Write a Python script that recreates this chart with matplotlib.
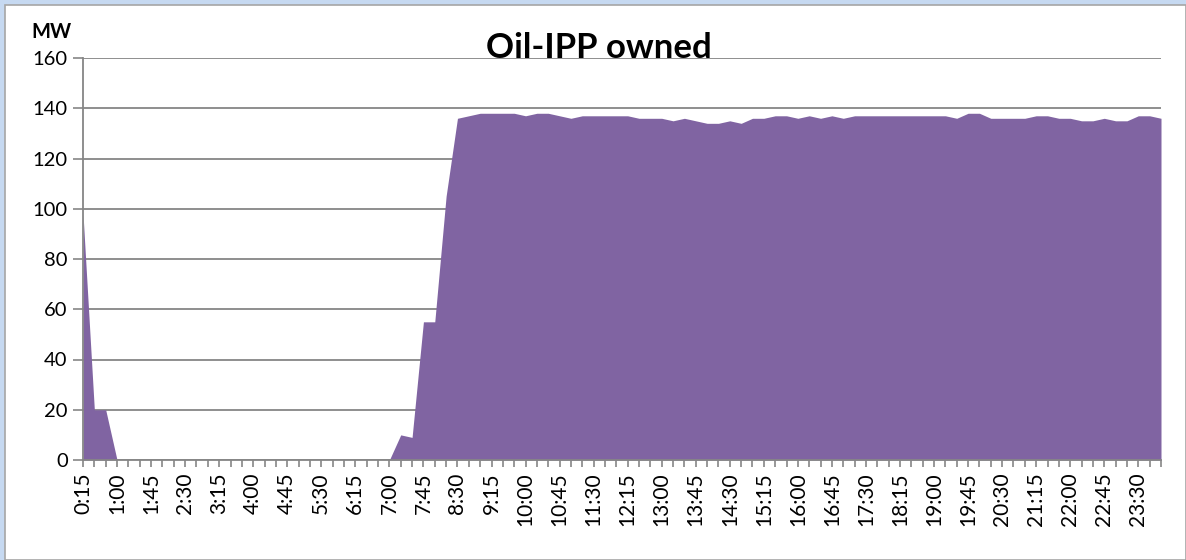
import matplotlib
matplotlib.use("Agg")
import matplotlib.pyplot as plt
from matplotlib.patches import Rectangle

# categories: quarter-hours 0:15 ... 24:00
times = []
for q in range(1, 97):
    m = q * 15
    times.append(f"{m // 60}:{m % 60:02d}")

values = [98, 20, 20, 0,
          0, 0, 0, 0, 0, 0, 0, 0, 0, 0, 0, 0,
          0, 0, 0, 0, 0, 0, 0, 0, 0, 0, 0, 0,
          10, 9, 55, 55, 105, 136, 137,
          138, 138, 138, 138, 137, 138, 138, 137, 136,
          137, 137, 137, 137, 137, 136, 136, 136, 135, 136, 135, 134, 134, 135, 134,
          136, 136, 137, 137, 136, 137, 136, 137, 136,
          137, 137, 137, 137, 137, 137, 137, 137, 137,
          136, 138, 138, 136, 136, 136, 136, 137, 137, 136, 136, 135, 135, 136,
          135, 135, 137, 137, 136]

title = "Oil-IPP owned"
y_label = "MW"
y_ticks = [0, 20, 40, 60, 80, 100, 120, 140, 160]

W, H = 1186, 560
fig = plt.figure(figsize=(W / 100, H / 100), dpi=100)
fig.patch.set_facecolor("#C6D9F1")
bg = Rectangle((4.5 / W, 1 - 559.5 / H), (W - 4.5) / W, (559.5 - 4.5) / H,
               transform=fig.transFigure, facecolor="white",
               edgecolor="#A6A6A6", linewidth=1.2, zorder=-10)
fig.patches.append(bg)

ax = fig.add_axes([83 / W, (H - 460) / H, (1161 - 83) / W, (460 - 58) / H])
ax.set_zorder(2)
ax.set_facecolor("none")
x = list(range(len(values)))
ax.fill_between(x, values, 0, color="#8064A2", linewidth=0, zorder=3)

ax.set_xlim(0, len(values) - 1)
ax.set_ylim(0, 160)
ax.set_yticks(y_ticks)
ax.yaxis.grid(True, color="#868686", linewidth=1.3, zorder=1)
ax.set_axisbelow(True)

ax.set_xticks(x)
ax.set_xticklabels([t if i % 3 == 0 else "" for i, t in enumerate(times)],
                   rotation=90, fontsize=15, family="Lato")
ax.tick_params(axis="x", length=5, width=1.2, color="#868686", pad=4)
ax.tick_params(axis="y", length=7, width=1.2, color="#868686", pad=4, labelsize=14.5)
for lbl in ax.get_yticklabels():
    lbl.set_family("Lato")

for s in ["top", "right"]:
    ax.spines[s].set_visible(False)
for s in ["left", "bottom"]:
    ax.spines[s].set_color("#868686")
    ax.spines[s].set_linewidth(1.3)
    ax.spines[s].set_zorder(4)

fig.text(599 / W, 1 - 48 / H, title, ha="center", va="center",
         fontsize=25, fontweight="bold", family="Lato", zorder=10)
fig.text(51 / W, 1 - 32 / H, y_label, ha="center", va="center",
         fontsize=14.5, fontweight="bold", family="Lato")

fig.savefig("out.png", dpi=100, facecolor=fig.get_facecolor())
